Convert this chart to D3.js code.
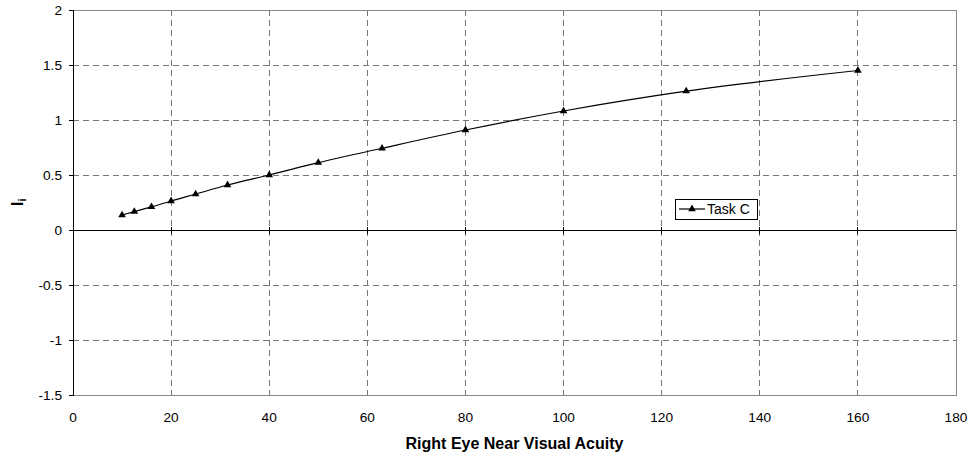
<!DOCTYPE html>
<html><head><meta charset="utf-8">
<script src="https://cdn.jsdelivr.net/npm/d3@7"></script>
<style>body{margin:0;background:#fff}svg{display:block}text{font-family:Arial,"Liberation Sans",sans-serif}</style>
</head><body><svg id="c" width="974" height="459"></svg>
<script>
const acuity = [10, 12.5, 16, 20, 25, 31.5, 40, 50, 63, 80, 100, 125, 160];
const taskC = [0.136, 0.167, 0.21, 0.264, 0.327, 0.409, 0.5, 0.612, 0.743, 0.909, 1.082, 1.262, 1.45];
const xTicks = [0, 20, 40, 60, 80, 100, 120, 140, 160, 180];
const yTicks = [-1.5, -1, -0.5, 0, 0.5, 1, 1.5, 2];
const seriesName = "Task C";
const xTitle = "Right Eye Near Visual Acuity";

const svg = d3.select("#c");
const L = 73, R = 956, T = 10, B = 395;
const x = d3.scaleLinear().domain([0, 180]).range([L, R]);
const y = d3.scaleLinear().domain([-1.5, 2]).range([B, T]);
const FS = 13.7;

// grid
svg.append("g").selectAll("line").data(xTicks.filter(d => d > 0 && d < 180)).join("line")
  .attr("x1", d => x(d)).attr("x2", d => x(d)).attr("y1", T).attr("y2", B)
  .attr("stroke", "#777").attr("stroke-dasharray", "6,4").attr("shape-rendering", "crispEdges");
svg.append("g").selectAll("line").data(yTicks.filter(d => d !== 0 && d > -1.5 && d < 2)).join("line")
  .attr("x1", L).attr("x2", R).attr("y1", d => y(d)).attr("y2", d => y(d))
  .attr("stroke", "#777").attr("stroke-dasharray", "6,4").attr("shape-rendering", "crispEdges");

// border
svg.append("rect").attr("x", L).attr("y", T).attr("width", R - L).attr("height", B - T)
  .attr("fill", "none").attr("stroke", "#888").attr("shape-rendering", "crispEdges");

// y axis
const yAxis = d3.axisLeft(y).tickValues(yTicks).tickSize(4).tickPadding(7).tickFormat(d => String(d));
const gy = svg.append("g").attr("transform", `translate(${L},0)`).call(yAxis);
gy.select(".domain").attr("stroke", "#000");
gy.selectAll(".tick line").attr("stroke", "#000");
gy.selectAll("text").attr("font-size", FS).attr("fill", "#000").attr("font-family", "Arial, 'Liberation Sans', sans-serif");
gy.attr("shape-rendering", "crispEdges");

// zero line with ticks
const gx = svg.append("g").attr("transform", `translate(0,${y(0)})`).attr("shape-rendering", "crispEdges");
gx.append("line").attr("x1", L).attr("x2", R).attr("stroke", "#000");
gx.selectAll("line.t").data(xTicks.filter(d => d > 0 && d < 180)).join("line").attr("class", "t")
  .attr("x1", d => x(d)).attr("x2", d => x(d)).attr("y1", -3).attr("y2", 4).attr("stroke", "#000");

// x tick labels at bottom
svg.append("g").selectAll("text").data(xTicks).join("text")
  .attr("x", d => x(d)).attr("y", 422).attr("text-anchor", "middle")
  .attr("font-size", FS).text(d => d);

// x title
svg.append("text").attr("x", (L + R) / 2).attr("y", 449).attr("text-anchor", "middle")
  .attr("font-size", 16).attr("font-weight", "bold").text(xTitle);

// y title I_i
const yt = svg.append("text").attr("transform", `translate(22.5,206) rotate(-90)`)
  .attr("font-size", 16).attr("font-weight", "bold");
yt.append("tspan").text("I");
yt.append("tspan").attr("font-size", 10.5).attr("dy", 3.3).text("i");

// line
const pts = acuity.map((a, i) => [a, taskC[i]]);
svg.append("path").datum(pts)
  .attr("d", d3.line().x(d => x(d[0])).y(d => y(d[1])).curve(d3.curveMonotoneX))
  .attr("fill", "none").attr("stroke", "#000").attr("stroke-width", 1.2);
const tri = d3.symbol().type(d3.symbolTriangle).size(25);
svg.append("g").selectAll("path").data(pts).join("path")
  .attr("d", tri).attr("transform", d => `translate(${x(d[0])},${y(d[1])})`).attr("fill", "#000");

// legend
const lg = svg.append("g").attr("transform", "translate(675,199)");
lg.append("rect").attr("width", 82).attr("height", 20).attr("fill", "#fff").attr("stroke", "#000")
  .attr("shape-rendering", "crispEdges");
lg.append("line").attr("x1", 4).attr("x2", 30).attr("y1", 10).attr("y2", 10).attr("stroke", "#000").attr("stroke-width", 1.2);
lg.append("path").attr("d", tri).attr("transform", "translate(17,10)").attr("fill", "#000");
lg.append("text").attr("x", 32).attr("y", 15).attr("font-size", 14).text(seriesName);
</script></body></html>
